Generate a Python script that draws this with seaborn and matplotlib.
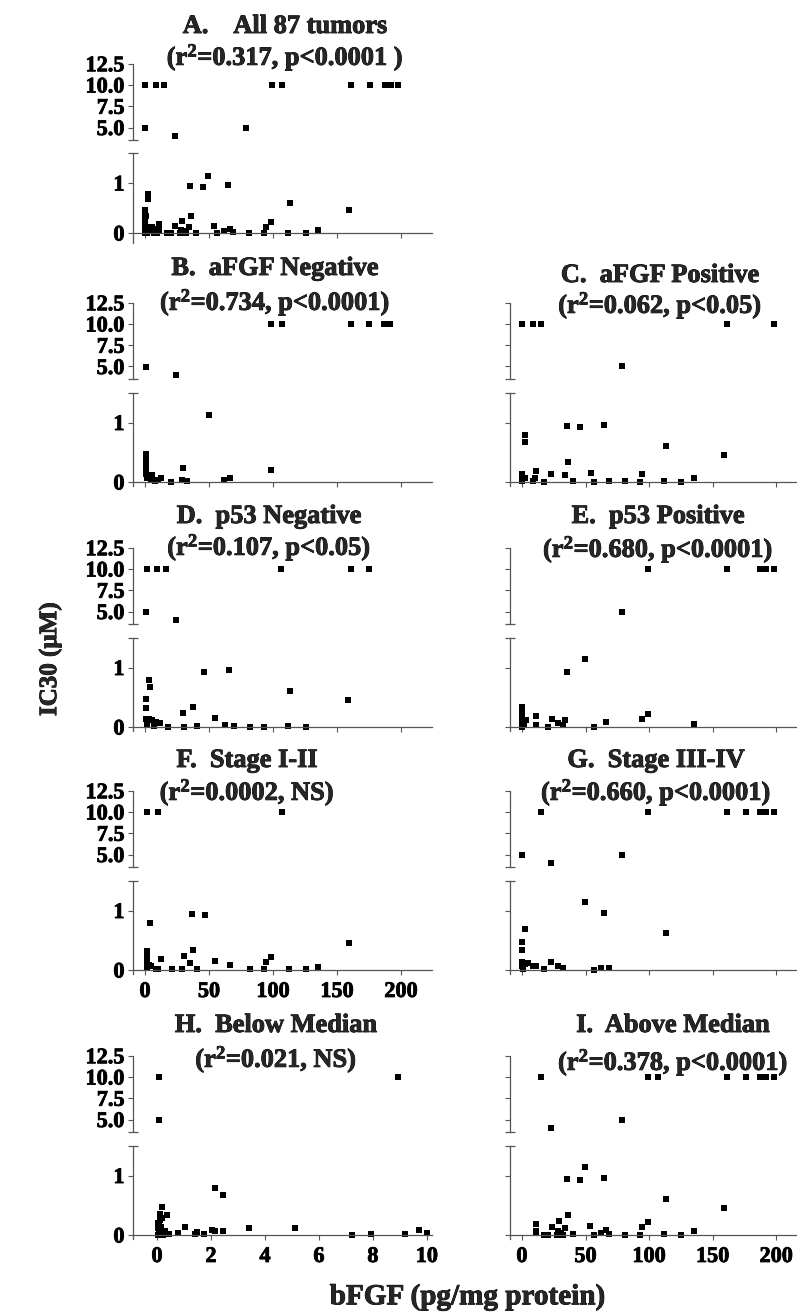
import numpy as np
import pandas as pd
import matplotlib
matplotlib.use('Agg')
import matplotlib.pyplot as plt
import matplotlib.patheffects as pe
import seaborn as sns

# ---------------- data ----------------
# H: below median bFGF (x in pg/mg protein, 0-10 scale)
H_x = [0.07, 0.07, 8.92,
       0.2, 0.1, 0.37, 0.1, 0.07, 0.05, 0.07, 0.12, 0.22, 0.32, 0.45, 0.05,
       0.78, 1.04, 1.4, 1.49, 1.73, 2.05, 2.15, 2.14, 2.45, 2.43, 3.42, 5.12,
       7.22, 7.92, 9.2, 9.72, 10.0,
       0.15, 0.25, 0.03, 0.18, 0.3]
H_y = [10, 4.9, 10,
       0.47, 0.35, 0.34, 0.25, 0.17, 0.11, 0.06, 0.02, 0, 0.01, 0.01, 0,
       0.04, 0.13, 0.01, 0.05, 0.02, 0.08, 0.06, 0.79, 0.68, 0.07, 0.12, 0.12,
       0, 0.02, 0.01, 0.08, 0.04,
       0.14, 0.04, 0.2, 0.29, 0.07]
# I: above median
I_x = [15.2, 23.1, 78.6, 99.3, 107.2, 161.1, 176.1, 187.4, 191.8, 197.9,
       11.3, 11.3, 11.3, 17.1, 20.5, 23.7, 28.9, 28.4, 27.6, 31.0,
       32.3, 34.2, 36.3, 35.2, 40.2, 45.5, 49.4, 53.9, 56.5, 61.8,
       64.6, 66.0, 68.6, 81.2, 92.8, 94.6, 98.8, 111.7, 113.3, 125.4,
       135.3, 159.3]
I_y = [10, 3.95, 5.0, 10, 10, 10, 10, 10, 10, 10,
       0.18, 0.07, 0.04, 0, 0, 0.14, 0.24, 0.07, 0, 0.04,
       0, 0.12, 0.34, 0.94, 0.01, 0.92, 1.14, 0.15, 0, 0.04,
       0.96, 0.08, 0.02, 0, 0, 0.13, 0.22, 0.01, 0.61, 0,
       0.06, 0.46]
# A: all tumours = below median + above median
A_x = H_x + I_x
A_y = H_y + I_y
# B: aFGF negative
B_x = [1.0, 24.2, 98.8, 106.9, 161, 175, 186.4, 191.1,
       1, 1, 1, 1, 1, 3.1, 5.7, 1.8, 4.4, 7.5,
       10.1, 12.2, 20.5, 29.6, 29.1, 32.5, 49.7, 61.6, 66, 98.5]
B_y = [4.9, 4.0, 10, 10, 10, 10, 10, 10,
       0.47, 0.37, 0.29, 0.21, 0.13, 0.11, 0.11, 0.06, 0.04, 0.02,
       0.04, 0.06, 0, 0.23, 0.03, 0.02, 1.13, 0.03, 0.07, 0.21]
# C: aFGF positive
C_x = [0.3, 8.7, 14.7, 78.3, 161.1, 197.9,
       2.1, 2.1, 0, 0, 1.3, 0, 2.6, 8.7, 10, 11.3,
       17.1, 23.1, 33.6, 35.2, 36.3, 40.2, 45.5, 54.1, 56.5, 64.6,
       68.6, 81.2, 92.8, 94.6, 112, 113.3, 125.4, 135.3, 159.3]
C_y = [10, 10, 10, 5.0, 10, 10,
       0.79, 0.68, 0.14, 0.08, 0.06, 0.02, 0.07, 0.02, 0.07, 0.18,
       0, 0.14, 0.12, 0.94, 0.34, 0.01, 0.92, 0.16, 0, 0.96,
       0.02, 0.01, 0, 0.13, 0.02, 0.61, 0, 0.06, 0.46]
# D: p53 negative
D_x = [1.3, 9.6, 16.1, 1.0, 24.2, 106.6, 161, 175,
       3.1, 3.6, 1, 1, 1, 3.1, 5.7, 8.3, 11.4, 1.8,
       7, 18, 29.9, 30.4, 37.2, 40.8, 46.3, 54.6, 62.1, 65.5,
       69.4, 81.9, 92.8, 111.8, 113.1, 125.6, 158.9]
D_y = [10, 10, 10, 4.9, 4.0, 10, 10, 10,
       0.79, 0.68, 0.47, 0.32, 0.13, 0.13, 0.12, 0.08, 0.07, 0.04,
       0.02, 0, 0.24, 0, 0.34, 0.01, 0.92, 0.16, 0.03, 0.96,
       0.01, 0, 0, 0.01, 0.61, 0, 0.46]
# E: p53 positive
E_x = [99.3, 78.3, 161.1, 187.4, 191.8, 197.9,
       49.4, 35.2, 0, 0, 0, 0.8, 3.4, 0, 1.6, 0,
       11.3, 10.8, 20.5, 23.7, 28.4, 32.3, 34.2, 56.5, 66, 94.6,
       98.8, 135.3]
E_y = [10, 5.0, 10, 10, 10, 10,
       1.14, 0.93, 0.34, 0.23, 0.16, 0.11, 0.12, 0.07, 0.03, 0,
       0.18, 0.03, 0, 0.14, 0.07, 0.03, 0.12, 0, 0.08, 0.13,
       0.22, 0.05]
# F: stage I-II
F_x = [1.3, 10.1, 106.9,
       3.6, 36.4, 46.5, 1.3, 1.3, 1.3, 3.1, 1.3, 4.4, 8.3,
       10.4, 12.5, 21.3, 29.1, 30.2, 34.8, 37.7, 40.8, 54.9, 66.6,
       81.9, 92.6, 94.6, 98.8, 112.3, 125.6, 135.2, 159.1]
F_y = [10, 10, 10,
       0.79, 0.94, 0.92, 0.32, 0.23, 0.14, 0.09, 0.04, 0.06, 0.01,
       0.01, 0.18, 0.01, 0.01, 0.24, 0.12, 0.34, 0.01, 0.16, 0.08,
       0.01, 0.01, 0.13, 0.22, 0.01, 0.01, 0.05, 0.46]
# G: stage III-IV
G_x = [0, 14.7, 23.1, 78.3, 99.3, 161.1, 176.1, 187.4, 191.8, 197.9,
       49.4, 64.6, 2.1, 0, 0, 113.3, 0, 2.1, 4.7, 0,
       0.8, 8.7, 10.8, 17.3, 23.1, 28.4, 32.3, 56.5, 61.8, 68.6]
G_y = [4.9, 10, 3.95, 5.0, 10, 10, 10, 10, 10, 10,
       1.14, 0.96, 0.69, 0.47, 0.34, 0.62, 0.13, 0.10, 0.12, 0.06,
       0.02, 0.06, 0.07, 0.01, 0.14, 0.07, 0.03, 0, 0.04, 0.03]

titles1 = ['A.    All 87 tumors', 'B.  aFGF Negative', 'C.  aFGF Positive',
           'D.  p53 Negative', 'E.  p53 Positive', 'F.  Stage I-II',
           'G.  Stage III-IV', 'H.  Below Median', 'I.  Above Median']
stats = ['0.317, p<0.0001 ', '0.734, p<0.0001', '0.062, p<0.05',
         '0.107, p<0.05', '0.680, p<0.0001', '0.0002, NS',
         '0.660, p<0.0001', '0.021, NS', '0.378, p<0.0001']
upper_ticks = [5, 7.5, 10, 12.5]
upper_labels = ['5.0', '7.5', '10.0', '12.5']
lower_ticks = [0, 1]
lower_labels = ['0', '1']
x_ticks_main = [0, 50, 100, 150, 200]
x_ticks_H = [0, 2, 4, 6, 8, 10]

panel_data = [(A_x, A_y), (B_x, B_y), (C_x, C_y), (D_x, D_y), (E_x, E_y),
              (F_x, F_y), (G_x, G_y), (H_x, H_y), (I_x, I_y)]

# ---------------- style ----------------
sns.set_style('ticks')
plt.rcParams['font.family'] = ['Liberation Serif', 'DejaVu Serif']
plt.rcParams['font.weight'] = 'bold'
plt.rcParams['mathtext.fontset'] = 'custom'
plt.rcParams['mathtext.rm'] = 'Liberation Serif:bold'
plt.rcParams['mathtext.bf'] = 'Liberation Serif:bold'
plt.rcParams['mathtext.it'] = 'Liberation Serif:bold'

W, H = 797, 1314
fig = plt.figure(figsize=(W / 100, H / 100), dpi=100)
heavy = [pe.withStroke(linewidth=0.6, foreground='black')]

def place(l, t, r, b):
    return fig.add_axes([l / W, 1 - b / H, (r - l) / W, (b - t) / H])

# layout (pixels)
row_y10 = [85, 324, 569, 812, 1077]
col_lr = [(133, 432), (510, 807)]
grid = [(0, 0), (0, 1), (1, 1), (0, 2), (1, 2), (0, 3), (1, 3), (0, 4), (1, 4)]
title_pos = [(285, 33, 65), (275, 275, 310), (660, 282, 313),
             (269, 523, 555), (658, 523, 557), (247, 767, 800),
             (656, 767, 800), (276, 1032, 1067), (673, 1032, 1070)]
xlabels_on = {5, 7, 8}

spine_c = '#555555'
tick_fs = 16
title_fs = 19
tfont = dict(fontsize=tick_fs, fontweight='bold', path_effects=heavy)

for i, ((xs, ys), (c, r)) in enumerate(zip(panel_data, grid)):
    df = pd.DataFrame({'x': xs, 'y': ys})
    y10 = row_y10[r]
    l, rr = col_lr[c]
    if i == 7:
        xlim = (-0.89, 10.19)
        xt = x_ticks_H
    else:
        xlim = (-9.4, 224.2)
        xt = x_ticks_main

    axu = place(l, y10 - 21.25, rr, y10 + 55.25)
    if i == 0:
        lo_lim = (-0.2, 1.6)
        axl = place(l, y10 + 68, rr, y10 + 158)
    else:
        lo_lim = (-0.06, 1.5)
        axl = place(l, y10 + 68.75, rr, y10 + 161.6)

    up = df[df.y >= 3]
    lo = df[df.y < 2]
    for ax, d in ((axu, up), (axl, lo)):
        sns.scatterplot(data=d, x='x', y='y', ax=ax, marker='s', s=15,
                        color='black', linewidth=0, legend=False)
        ax.set_xlim(*xlim)
        ax.set_xlabel('')
        ax.set_ylabel('')
        ax.patch.set_alpha(0)
        for s in ('top', 'right'):
            ax.spines[s].set_visible(False)
        for s in ax.spines.values():
            s.set_color(spine_c)
            s.set_linewidth(0.9)
        ax.tick_params(axis='both', which='major', direction='out', length=3.6,
                       width=0.8, color=spine_c, pad=2.5, labelcolor='black')

    axu.set_ylim(3.5, 12.5)
    axu.spines['bottom'].set_visible(False)
    axu.set_xticks([])
    axu.set_yticks(upper_ticks)
    axu.set_yticklabels(upper_labels if c == 0 else [], **tfont)
    axu.set_yticks([3.5], minor=True)
    axu.tick_params(axis='y', which='minor', direction='inout', length=7,
                    width=0.9, color=spine_c)

    axl.set_ylim(*lo_lim)
    axl.spines['bottom'].set_position(('data', 0))
    axl.set_yticks(lower_ticks)
    axl.set_yticklabels(lower_labels if c == 0 else [], **tfont)
    axl.set_yticks([lo_lim[1]], minor=True)
    axl.tick_params(axis='y', which='minor', direction='inout', length=7,
                    width=0.9, color=spine_c)
    axl.set_xticks(xt)
    if i in xlabels_on:
        axl.set_xticklabels([str(v) for v in xt], **tfont)
        axl.tick_params(axis='x', pad=5)
    else:
        axl.set_xticklabels([])

    cx, b1, b2 = title_pos[i]
    fig.text(cx / W, 1 - b1 / H, titles1[i], ha='center', va='baseline',
             fontsize=title_fs, fontweight='bold', path_effects=heavy)
    fig.text(cx / W, 1 - b2 / H, '(r$^\\mathbf{2}$=' + stats[i] + ')',
             ha='center', va='baseline', fontsize=title_fs, fontweight='bold',
             path_effects=heavy)

fig.text(50 / W, 1 - 659 / H, 'IC30 (µM)', rotation=90, ha='center',
         va='center', fontsize=18, fontweight='bold', path_effects=heavy)
fig.text(467 / W, 1 - 1297 / H, 'bFGF (pg/mg protein)', ha='center',
         va='center', fontsize=21, fontweight='bold', path_effects=heavy)

fig.savefig('out.png', dpi=100)
